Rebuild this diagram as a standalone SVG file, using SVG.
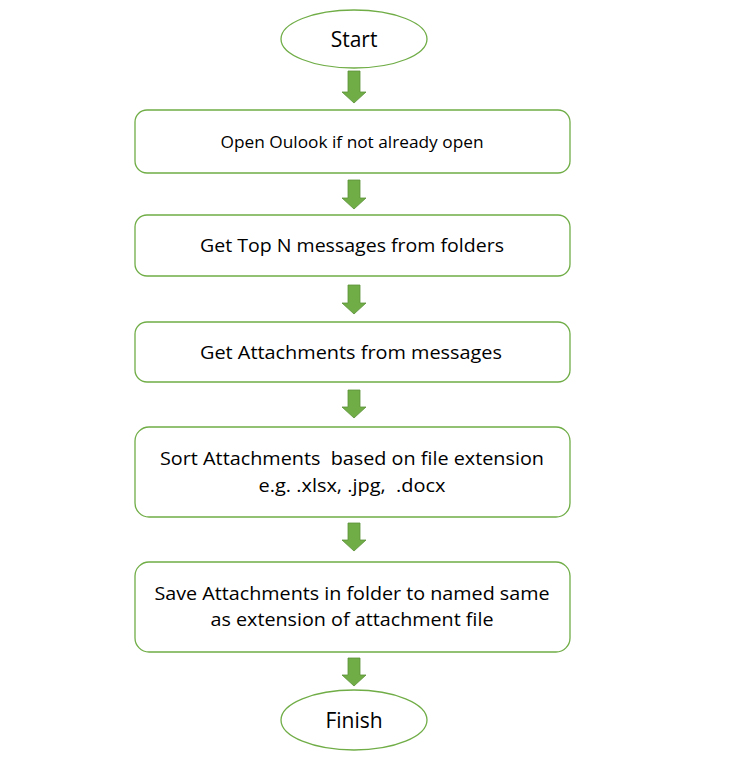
<svg xmlns="http://www.w3.org/2000/svg" width="737" height="759" viewBox="0 0 737 759">
<style>
.n{fill:#fff;stroke:#70AD47;stroke-width:1.3}
.t{font-family:"Open Sans","Liberation Sans",sans-serif;fill:#000;text-anchor:middle;white-space:pre}
.a{fill:#70AD47;stroke:#5a8f38;stroke-width:0.8}
</style>
<rect width="737" height="759" fill="#fff"/>
<g id="connectors">
<path class="a" d="M348,71 H360 V92 H366 L354,103 L342,92 H348 Z"/>
<path class="a" d="M348,180 H360 V198 H366 L354,209 L342,198 H348 Z"/>
<path class="a" d="M348,285 H360 V303 H366 L354,314 L342,303 H348 Z"/>
<path class="a" d="M348,390 H360 V407 H366 L354,418 L342,407 H348 Z"/>
<path class="a" d="M348,523 H360 V540 H366 L354,551 L342,540 H348 Z"/>
<path class="a" d="M348,658 H360 V675 H366 L354,686 L342,675 H348 Z"/>
</g>
<g id="start">
<ellipse class="n" cx="354" cy="39" rx="73" ry="29"/>
<text class="t" x="354" y="47" font-size="21">Start</text>
</g>
<g id="open-outlook">
<rect class="n" x="135" y="110" width="435" height="63" rx="12"/>
<text class="t" x="352" y="148" font-size="16" textLength="263" lengthAdjust="spacingAndGlyphs">Open Oulook if not already open</text>
</g>
<g id="get-messages">
<rect class="n" x="135" y="215" width="435" height="61" rx="12"/>
<text class="t" x="352" y="252" font-size="19" textLength="304" lengthAdjust="spacingAndGlyphs">Get Top N messages from folders</text>
</g>
<g id="get-attachments">
<rect class="n" x="135" y="322" width="435" height="60" rx="12"/>
<text class="t" x="351" y="359" font-size="19" textLength="302" lengthAdjust="spacingAndGlyphs">Get Attachments from messages</text>
</g>
<g id="sort-attachments">
<rect class="n" x="135" y="427" width="435" height="90" rx="14"/>
<text class="t" x="352" y="465" font-size="19" textLength="384" lengthAdjust="spacingAndGlyphs">Sort Attachments  based on file extension</text>
<text class="t" x="352" y="492" font-size="19" textLength="187" lengthAdjust="spacingAndGlyphs">e.g. .xlsx, .jpg,  .docx</text>
</g>
<g id="save-attachments">
<rect class="n" x="135" y="562" width="435" height="90" rx="14"/>
<text class="t" x="352" y="600" font-size="19" textLength="395" lengthAdjust="spacingAndGlyphs">Save Attachments in folder to named same</text>
<text class="t" x="352" y="626" font-size="19" textLength="283" lengthAdjust="spacingAndGlyphs">as extension of attachment file</text>
</g>
<g id="finish">
<ellipse class="n" cx="354" cy="720" rx="73" ry="30"/>
<text class="t" x="354" y="728" font-size="21">Finish</text>
</g>
</svg>
